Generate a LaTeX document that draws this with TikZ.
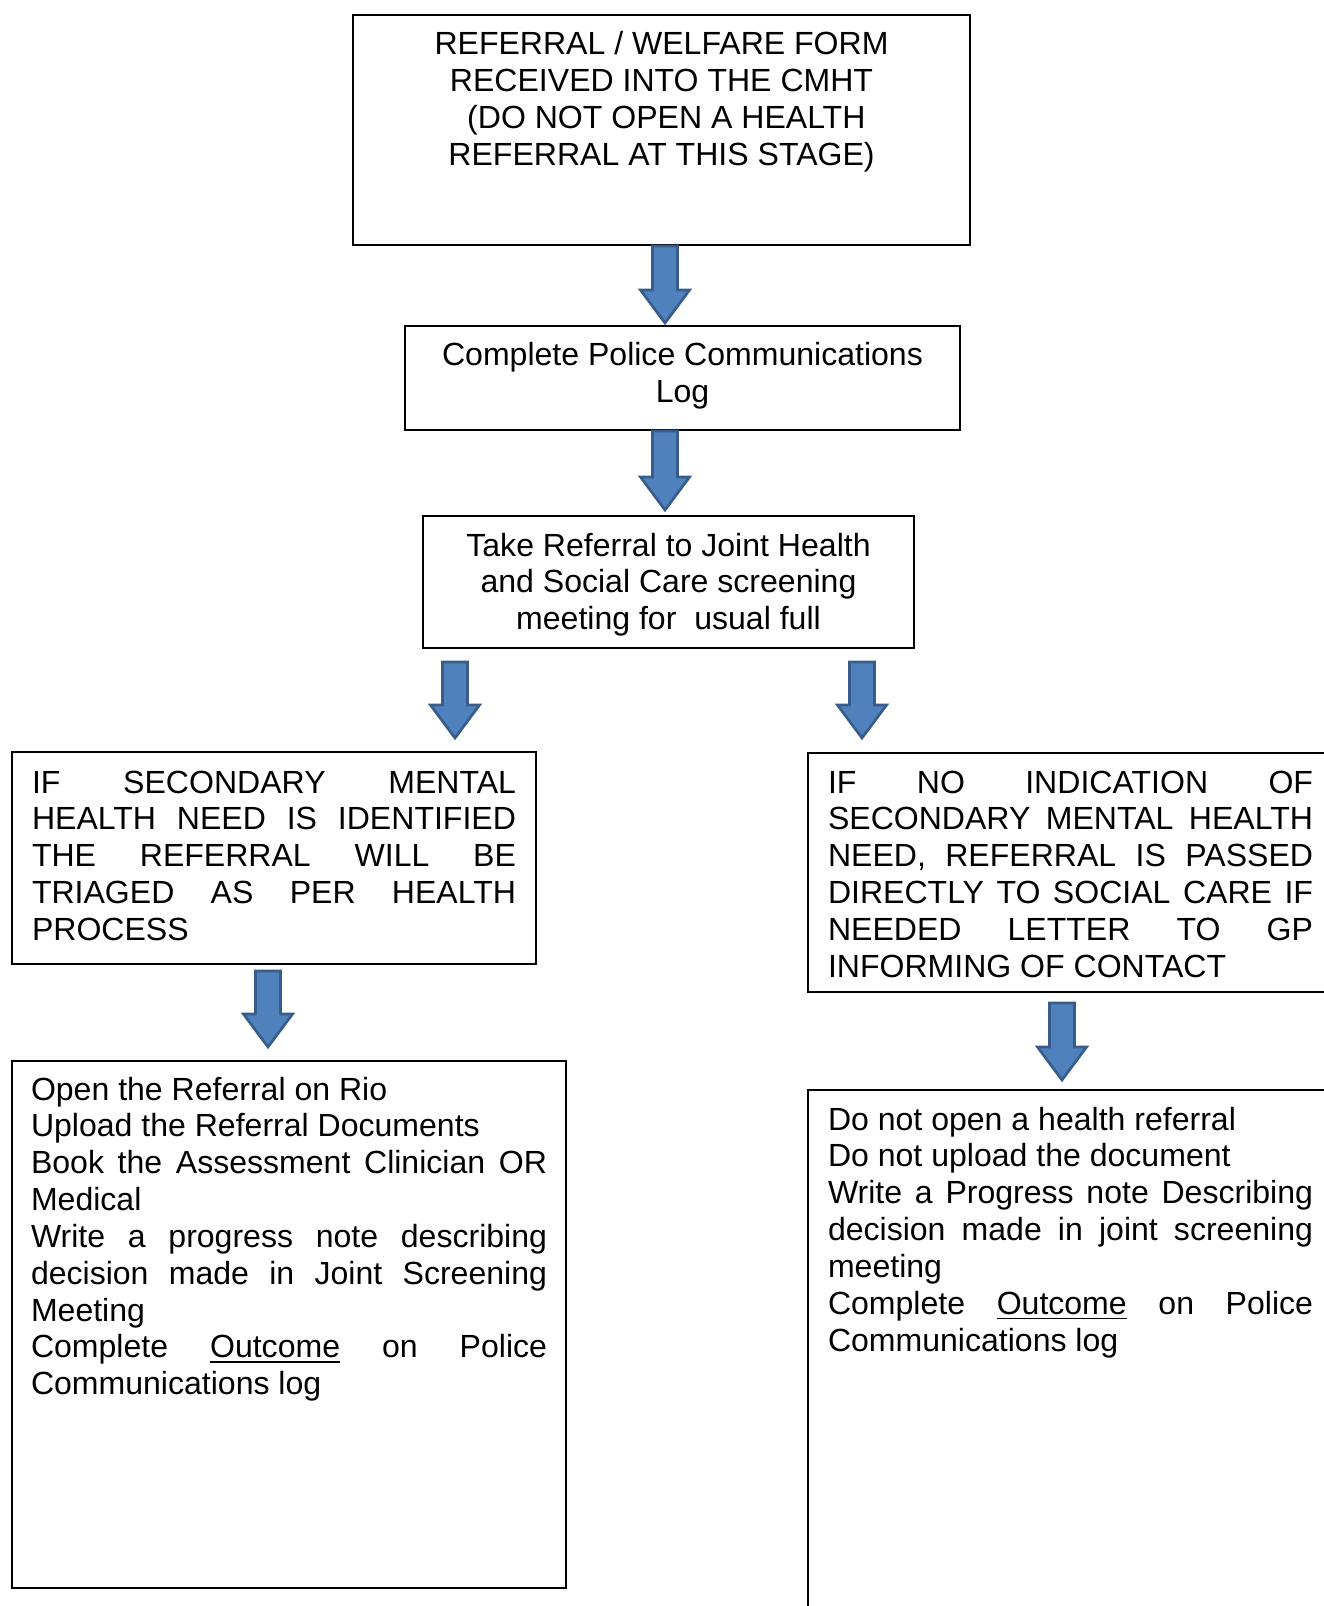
\documentclass[tikz,border=0pt]{standalone}
\usepackage{fontspec}
\setmainfont{Liberation Sans}
\usetikzlibrary{calc}

% one drawing unit = one pixel of the layout grid
\newdimen\pxu \pxu=0.3745pt

\definecolor{arrowfill}{HTML}{4F81BD}
\definecolor{arrowline}{HTML}{385D8A}

\setlength\parindent{0pt}
\tolerance=10000
\hbadness=10000

% box body: height, width, first baseline, alignment, text
\newcommand\stagetext[5]{%
  \begin{minipage}[c][#1\pxu][t]{#2\pxu}#4\rule{0pt}{#3\pxu}#5\end{minipage}}

% vertical block arrow: x, start anchor, start gap, end anchor, end gap
\newcommand\blockarrow[5]{%
  \filldraw[blockarrow] let \p1=(#1,0 |- #2), \p2=(#1,0 |- #4) in
    ({\x1-4.68pt},{\y1-#3*0.3745pt}) -- ({\x1+4.68pt},{\y1-#3*0.3745pt})
    -- ({\x1+4.68pt},{\y2+#5*0.3745pt+12.36pt}) -- ({\x1+9.2pt},{\y2+#5*0.3745pt+12.36pt})
    -- (\x1,{\y2+#5*0.3745pt})
    -- ({\x1-9.2pt},{\y2+#5*0.3745pt+12.36pt}) -- ({\x1-4.68pt},{\y2+#5*0.3745pt+12.36pt})
    -- cycle;}

\tikzset{
  stage/.style={draw, line width=0.75pt, rectangle, anchor=north west,
    inner ysep=0pt, font=\fontsize{12pt}{13.8pt}\selectfont},
  blockarrow/.style={fill=arrowfill, draw=arrowline, line width=1pt, line join=miter},
}

\begin{document}
\begin{tikzpicture}[x=0.3745pt, y=-0.3745pt]
\useasboundingbox (0,0) rectangle (1323,1606);

\node[stage, inner xsep=10*\pxu] (form) at (352,14)
  {\stagetext{230}{597}{40}{\centering}{REFERRAL / WELFARE FORM\\
   RECEIVED INTO THE CMHT\\
   \hspace*{0.3em}(DO NOT OPEN A HEALTH\\
   REFERRAL AT THIS STAGE)}};

\node[stage, inner xsep=10*\pxu] (commslog) at (404,325)
  {\stagetext{104}{535}{40}{\centering}{Complete Police Communications\\ Log}};

\node[stage, inner xsep=10*\pxu] (screening) at (422,515)
  {\stagetext{132}{471}{40}{\centering}{Take Referral to Joint Health\\
   and Social Care screening\\ meeting for\ \ usual full}};

\node[stage, inner xsep=20*\pxu] (mhneed) at (11,751)
  {\stagetext{212}{484}{41}{}{IF SECONDARY MENTAL\linebreak
   HEALTH NEED IS IDENTIFIED\linebreak
   THE REFERRAL WILL BE\linebreak
   TRIAGED AS PER HEALTH\linebreak
   PROCESS}};

\node[stage, inner xsep=20*\pxu] (nomhneed) at (807,752)
  {\stagetext{239}{485}{40}{}{IF NO INDICATION OF\linebreak
   SECONDARY MENTAL HEALTH\linebreak
   NEED, REFERRAL IS PASSED\linebreak
   DIRECTLY TO SOCIAL CARE IF\linebreak
   NEEDED LETTER TO GP\linebreak
   INFORMING OF CONTACT}};

\node[stage, inner xsep=19*\pxu] (healthsteps) at (11,1060)
  {\stagetext{527}{516}{39}{}{Open the Referral on Rio\par
   Upload the Referral Documents\par
   Book the Assessment Clinician OR\linebreak Medical\par
   Write a progress note describing\linebreak
   decision made in Joint Screening\linebreak Meeting\par
   Complete \underline{Outcome} on Police\linebreak Communications log}};

\node[stage, inner xsep=20*\pxu] (socialsteps) at (807,1089)
  {\stagetext{531}{485}{40}{}{Do not open a health referral\par
   Do not upload the document\par
   Write a Progress note Describing\linebreak
   decision made in joint screening\linebreak meeting\par
   Complete \underline{Outcome} on Police\linebreak Communications log}};

% flow arrows
\blockarrow{665}{form.south}{0}{commslog.north}{2}
\blockarrow{665}{commslog.south}{0}{screening.north}{5}
\blockarrow{455}{screening.south}{13}{mhneed.north}{13}
\blockarrow{862}{screening.south}{13}{nomhneed.north}{14}
\blockarrow{268}{mhneed.south}{6}{healthsteps.north}{13}
\blockarrow{1062}{nomhneed.south}{10}{socialsteps.north}{9}
\end{tikzpicture}
\end{document}
